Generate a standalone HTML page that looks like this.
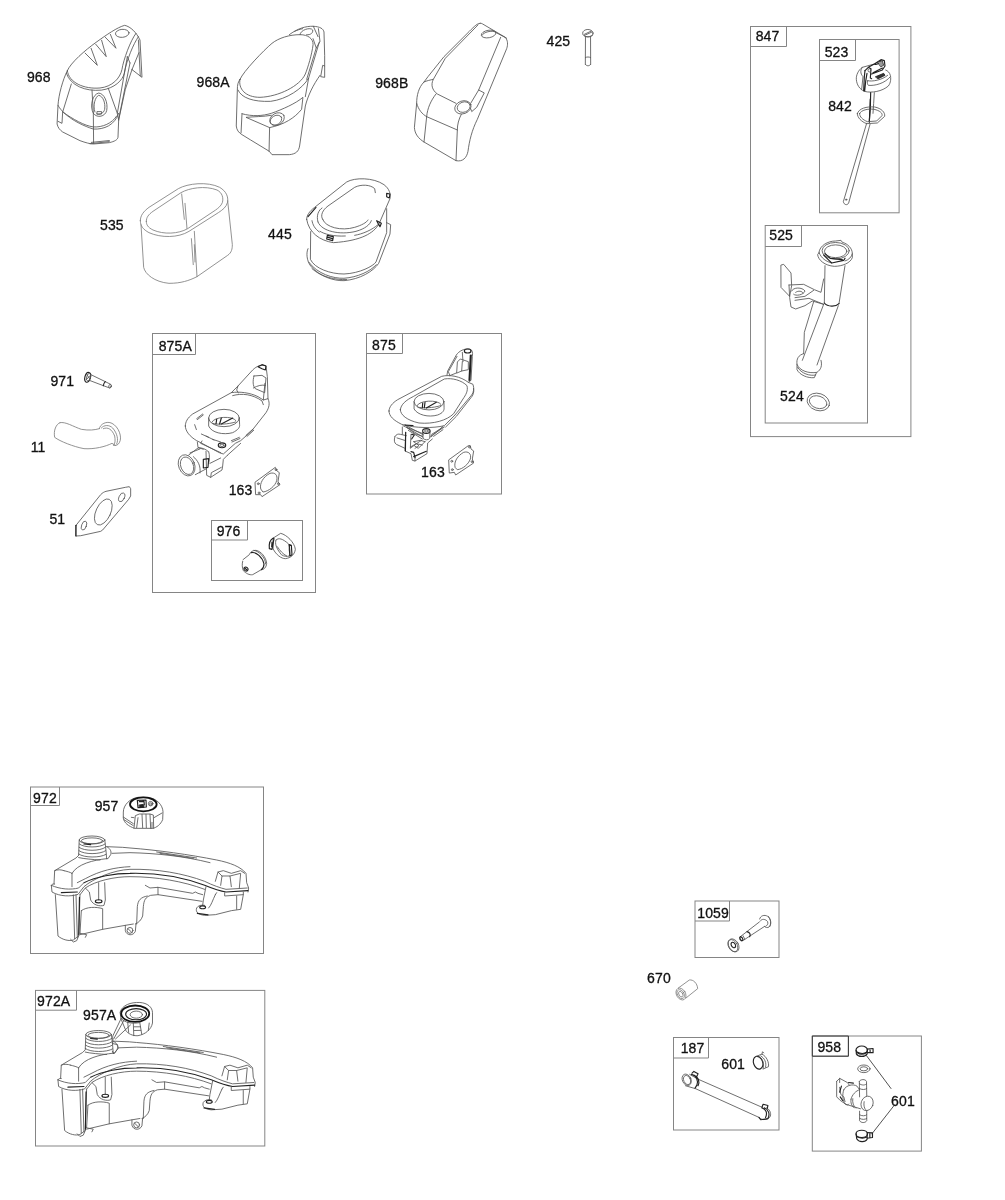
<!DOCTYPE html>
<html><head><meta charset="utf-8"><title>Parts diagram</title>
<style>
html,body{margin:0;padding:0;background:#fff;}
body{width:1005px;height:1200px;overflow:hidden;position:relative;font-family:"Liberation Sans",sans-serif;}
svg{position:absolute;left:0;top:0;filter:grayscale(1);}
.bx{fill:none;stroke:#858585;stroke-width:1;}
.t{font-family:"Liberation Sans",sans-serif;font-size:14px;fill:#111;stroke:#111;stroke-width:0.3px;letter-spacing:0.12px;}
.d{fill:none;stroke:#555;stroke-width:0.85;stroke-linecap:round;stroke-linejoin:round;vector-effect:non-scaling-stroke;}
.d *{vector-effect:non-scaling-stroke;}
.w{fill:#fff;}
.k{stroke:#222;stroke-width:1.15;}
.l{stroke:#808080;}
</style></head><body>
<svg width="1005" height="1200" viewBox="0 0 1005 1200">

<g class="bx">
<rect x="750.5" y="26.5" width="160.39999999999998" height="410.1"/>
<path d="M786.5 26.5V46.5H750.5"/>
<rect x="819.5" y="39.5" width="79.60000000000002" height="173.3"/>
<path d="M855.5 39.5V60.5H819.5"/>
<rect x="765.2" y="225.5" width="102.29999999999995" height="197.5"/>
<path d="M801.5 225.5V246.5H765.2"/>
<rect x="152.5" y="333.5" width="163.0" height="259.0"/>
<path d="M195.5 333.5V354.5H152.5"/>
<rect x="211.5" y="520.5" width="91.0" height="60.0"/>
<path d="M247.5 520.5V540H211.5"/>
<rect x="366.5" y="333.5" width="135.0" height="160.5"/>
<path d="M402.5 333.5V353.5H366.5"/>
<rect x="30.5" y="787" width="233.0" height="166.5"/>
<path d="M59.5 787V805.5H30.5"/>
<rect x="35.5" y="990.4" width="229.3" height="155.60000000000002"/>
<path d="M76.5 990.4V1010.2H35.5"/>
<rect x="695" y="901" width="84" height="56.5"/>
<path d="M729.5 901V921H695"/>
<rect x="673.5" y="1037.5" width="105.5" height="92.5"/>
<path d="M708.5 1037.5V1058H673.5"/>
<rect x="812.3" y="1036" width="109.10000000000002" height="115.09999999999991"/>
<path d="M848.4 1036V1056.2H812.3"/>
<path d="M848.4 1036V1056.2H812.3V1036Z" style="stroke:#3a3a3a;stroke-width:1"/>
</g>
<g class="t">
<text x="755.7" y="41.4">847</text>
<text x="824.7" y="57.4">523</text>
<text x="828.2" y="111.2">842</text>
<text x="769.3" y="240.0">525</text>
<text x="780.1" y="400.8">524</text>
<text x="158.7" y="351.4">875A</text>
<text x="216.7" y="536.0">976</text>
<text x="228.7" y="495.0">163</text>
<text x="372.1" y="350.4">875</text>
<text x="421.1" y="477.0">163</text>
<text x="33.1" y="803.4">972</text>
<text x="94.7" y="811.0">957</text>
<text x="37.1" y="1006.0">972A</text>
<text x="83.1" y="1019.8">957A</text>
<text x="697.3" y="918.4">1059</text>
<text x="647.1" y="983.4">670</text>
<text x="680.7" y="1053.4">187</text>
<text x="721.3" y="1069.0">601</text>
<text x="817.4" y="1051.7">958</text>
<text x="891.1" y="1105.7">601</text>
<text x="26.9" y="81.9">968</text>
<text x="196.5" y="86.6">968A</text>
<text x="375.2" y="87.6">968B</text>
<text x="546.5" y="46.2">425</text>
<text x="100.0" y="229.7">535</text>
<text x="268.1" y="238.9">445</text>
<text x="50.4" y="386.4">971</text>
<text x="30.7" y="452.4">11</text>
<text x="49.4" y="524.1">51</text>
</g>
<!-- p1059.svg -->
<g class="d" transform="translate(715,895) scale(0.066667)">
<path d="M670 360C680 310 740 290 790 320C840 360 850 440 810 480C790 495 760 490 745 475"/>
<path d="M680 390C700 350 760 360 790 400C800 440 780 460 760 470M800 320C840 360 845 430 825 470" />
<path d="M665 405L380 625M745 470L440 670"/>
<path d="M480 550C520 560 540 590 520 625" class="k"/>
<path d="M380 625C360 650 370 690 400 690L440 670M420 610L445 660"/>
<ellipse cx="395" cy="655" rx="18" ry="33" transform="rotate(-30 395 655)" class="k"/>
<ellipse cx="280" cy="755" rx="72" ry="105" transform="rotate(-30 280 755)"/>
<ellipse cx="268" cy="760" rx="66" ry="98" transform="rotate(-30 268 760)"/>
<ellipse cx="275" cy="750" rx="30" ry="45" transform="rotate(-30 275 750)" class="k"/>
</g>
<!-- p187.svg -->
<g class="d" transform="translate(670,1035) scale(0.119403)">
<ellipse cx="140" cy="375" rx="36" ry="50" transform="rotate(-25 140 375)"/>
<ellipse cx="143" cy="377" rx="28" ry="40" transform="rotate(-25 143 377)"/>
<path d="M165 330L235 370L770 605M130 425L215 450L745 690C770 720 830 710 840 680C850 650 830 620 810 610"/>
<path d="M185 320L200 305L235 325L225 345M180 330C220 340 240 380 225 420L210 445M200 335C240 350 250 390 235 425" class="k"/>
<path d="M770 605L780 580L820 590L815 615M770 610C800 620 820 650 800 690M790 610C825 625 840 660 820 700L760 710L745 690" class="k"/>
<ellipse cx="738" cy="232" rx="38" ry="55" transform="rotate(-20 738 232)" class="k"/>
<path d="M720 180L770 160C810 180 830 230 825 265L780 285M770 160L775 140L785 150M760 175C795 195 810 235 800 270M745 180C780 200 790 240 780 280"/>
</g>
<!-- p425.svg -->
<g class="d" transform="translate(540,15) scale(0.066667)">
<ellipse cx="718" cy="272" rx="78" ry="55"/>
<path d="M650 300C680 340 760 340 795 300M665 290L770 240M680 300L780 255"/>
<path d="M682 325L680 740M758 325L760 740M680 640C700 625 740 625 760 640M680 740C700 770 740 770 760 740"/>
</g>
<!-- p445.svg -->
<g class="d" transform="translate(280,170) scale(0.13333)">
<path d="M200 370C200 340 220 310 260 280L500 90C560 55 700 55 780 110C820 140 832 180 825 215L740 410C700 470 620 530 400 545C300 530 215 470 200 370Z"/>
<path d="M320 370C300 340 320 300 360 270L560 130C610 105 680 110 710 140L715 170"/>
<path d="M320 370C340 430 460 460 560 430C610 415 650 395 660 375"/>
<path d="M285 390C270 340 290 300 315 285M285 390C310 460 450 490 570 460C640 440 675 410 685 380"/>
<path d="M240 380C245 410 260 440 295 465M300 460C330 480 400 500 490 495M560 490C620 480 690 450 735 410"/>
<path d="M230 462L228 670C260 740 380 780 480 780C600 775 700 720 720 690L800 470L800 290"/>
<path d="M210 590C195 620 200 680 230 720C300 800 400 832 480 830C600 820 700 760 740 700L825 480L830 410L800 395"/>
<path d="M215 690C280 780 400 815 480 812C580 805 680 760 722 710M240 740C310 805 420 825 500 822"/>
<path d="M355 490L400 500L395 530L350 518ZM360 505L395 515M725 380L760 400L750 425L735 400ZM800 175L825 180L820 210L800 200Z" class="k"/>
<path d="M210 350L270 280" class="k"/>
</g>
<!-- p523.svg -->
<g class="d" transform="translate(845,50) scale(0.066667)">
<path d="M440 210L260 260C200 300 165 380 170 440C175 520 220 590 290 620C400 650 560 620 650 540C690 490 690 420 680 380C670 340 640 310 610 300"/>
<path d="M340 460C330 500 340 520 350 530C450 540 600 500 680 400M340 460C400 480 560 450 640 380"/>
<path d="M260 260C230 300 225 350 270 400L250 590"/>
<path d="M300 310L290 400L280 610M330 350L310 470L295 615" class="k"/>
<path d="M300 310L350 260L390 280L380 420L400 430M350 260L440 210L540 145L590 160L600 240L560 300L400 360M440 210C470 230 520 200 540 150M420 340L560 270" class="k"/>
<path d="M460 400L580 350L600 380L500 430Z" style="fill:#333;stroke:#222"/>
<path d="M490 180L560 160L580 230L540 250Z" style="fill:#999;stroke:#333"/>
<ellipse cx="365" cy="305" rx="20" ry="25"/>
<path d="M440 640L430 800L420 950"/>
<path d="M385 640L380 870L365 1060" class="k"/>
</g>
<g class="d" transform="translate(800,55) scale(0.13333)">
<path d="M527 330L520 505" class="k"/>
<path d="M430 440C440 400 500 385 560 390C610 400 640 430 635 460L580 510L500 515C460 500 430 470 430 440Z"/>
<path d="M447 440C457 412 510 402 555 407C598 417 620 435 615 455L575 495L505 500C470 485 447 465 447 440Z"/>
<path d="M500 512L325 1100C330 1125 355 1130 365 1110L525 520"/>
<circle cx="346" cy="1085" r="5"/>
</g>
<!-- p524.svg -->
<g class="d" transform="translate(770,375) scale(0.066667)">
<ellipse cx="725" cy="405" rx="172" ry="128" transform="rotate(18 725 405)"/>
<ellipse cx="722" cy="408" rx="135" ry="92" transform="rotate(18 722 408)"/>
</g>
<!-- p525.svg -->
<g class="d" transform="translate(765,235) scale(0.13333)">
<path d="M405 130C410 80 470 45 530 45L570 40L580 55C620 65 655 100 655 140L655 170C640 210 580 235 520 235C450 230 400 190 395 150Z"/>
<ellipse cx="530" cy="118" rx="102" ry="62"/>
<ellipse cx="530" cy="122" rx="84" ry="48"/>
<path d="M405 130C420 175 460 200 500 210M655 140C650 165 630 185 600 195"/>
<path d="M440 150L480 190L500 210L590 190L600 175M450 140L490 175L580 185" class="k"/>
<path d="M450 230L445 510M555 515L600 230"/>
<path d="M445 510C470 540 530 540 555 515" class="k"/>
<path d="M440 520L280 940M550 530L390 975M365 500L295 730L290 890"/>
<path d="M290 890C250 900 235 930 240 970C260 1020 330 1040 390 1030C420 1010 430 980 420 940"/>
<path d="M240 970L240 1010C260 1050 320 1075 370 1070L385 1035M245 992C270 1040 340 1060 380 1050"/>
<path d="M122 225L140 220L195 285L200 380L185 460L122 395Z"/>
<path d="M180 375L290 370L370 410L420 430L440 330M180 375L185 470L195 540L230 555L300 530L355 495L440 520M225 470L300 460L365 415M225 490L330 475L440 520"/>
<path d="M200 420C210 390 280 390 300 420C290 450 230 460 215 445M230 430C250 415 280 420 285 435"/>
</g>
<!-- p535.svg -->
<g class="d l" transform="translate(125,170) scale(0.13333)">
<path d="M115 380C115 340 140 310 180 280L400 140C470 100 620 85 710 130C760 160 775 200 770 240C760 280 730 300 700 320L480 460C400 510 270 510 180 470C135 445 115 420 115 380Z"/>
<path d="M160 385C160 355 175 335 210 310L420 170C480 135 600 115 690 150C730 170 740 210 730 245C720 270 700 285 680 300L470 440C400 480 290 485 210 450C170 430 160 410 160 385Z"/>
<path d="M120 410L140 730C150 780 220 840 330 850C420 850 480 830 540 800L770 640C800 620 805 590 805 560L770 230"/>
<path d="M520 460L540 800M425 180L445 370M450 250L465 440M498 515L512 710M520 560L525 690"/>
</g>
<!-- p670.svg -->
<g class="d l" transform="translate(640,960) scale(0.066667)">
<ellipse cx="615" cy="510" rx="68" ry="95" transform="rotate(-30 615 510)"/>
<ellipse cx="612" cy="512" rx="48" ry="72" transform="rotate(-30 612 512)"/>
<ellipse cx="612" cy="512" rx="28" ry="45" transform="rotate(-30 612 512)"/>
<path d="M575 420L740 300C800 290 860 350 865 430L690 570"/>
</g>
<!-- p875.svg -->
<g class="d" transform="translate(375,335) scale(0.13333)">
<path d="M105 570C105 540 130 510 170 485L500 310C560 295 640 310 700 355L735 370C745 400 740 430 725 450L600 600L520 680C440 700 300 700 200 670C140 640 105 610 105 570Z"/>
<path d="M190 560C195 520 230 490 290 460L520 330C580 320 650 340 690 380C700 420 680 450 660 480L590 590C540 640 440 670 330 660C240 640 190 600 190 560Z"/>
<path d="M740 400C745 430 735 455 720 470L610 610L530 690"/>
<path d="M540 300L545 270L610 150C630 120 670 100 710 105C730 110 735 130 730 160L720 340L700 355M560 300L550 275L615 160"/>
<path d="M620 200L640 180L700 200L700 260L650 270L615 285ZM655 130L660 200M610 285L560 305M650 270L655 200"/>
<path d="M715 150L705 340M722 150L712 340" class="k"/>
<ellipse cx="695" cy="120" rx="25" ry="15" class="k"/>
<ellipse cx="405" cy="500" rx="112" ry="62"/>
<path d="M293 500L293 555C320 600 400 620 470 600C510 585 520 565 518 545L517 500"/>
<path d="M315 530C330 490 470 482 495 520M320 540C350 552 440 547 492 530"/>
<path d="M355 545L358 510M370 545L375 505M385 548L460 505" class="k"/>
<ellipse cx="385" cy="720" rx="28" ry="18" class="k"/>
<ellipse cx="385" cy="720" rx="14" ry="8"/>
<path d="M357 720L360 775C375 790 400 790 410 775L413 720"/>
<path d="M210 680L230 690L360 740M415 760L520 690M440 760L510 710M235 690L300 740L355 760"/>
<path d="M150 760C140 790 145 810 160 820L225 850M150 760C160 745 175 740 190 745L235 755M165 772L228 792M205 690L205 745"/>
<path d="M230 730L225 870L270 890L280 940L300 945L390 890L395 810L430 780M270 745L265 850C290 830 330 800 350 790M300 945L300 915M290 800L330 830L300 850"/>
<path d="M230 730L228 870M290 912L385 872" class="k"/>
<path d="M555 935L700 830L715 830L720 855L740 870L730 930L740 960L605 1050L595 1030L560 1035Z"/>
<path d="M600 990C590 950 620 905 665 880C700 870 725 890 715 930C700 970 660 1005 620 1010Z"/>
<circle cx="576" cy="947" r="7"/><circle cx="580" cy="1010" r="7"/><circle cx="708" cy="840" r="7"/><circle cx="728" cy="950" r="7"/>
</g>
<g class="d" transform="translate(385,415) scale(0.066667)">
<path d="M300 150L580 300M330 190L570 330M350 230L560 360M690 330L870 170M700 290L860 190"/>
<path d="M430 400L530 380L600 400M380 480L470 430L560 450M440 460L500 500L600 400"/>
<path d="M400 290L440 300L400 360M390 550L430 560L450 640M300 150L420 160" class="k"/>
</g>
<!-- p875a.svg -->
<g class="d" transform="translate(170,350) scale(0.13333)">
<path d="M115 570C115 540 130 510 170 480L460 320C520 310 600 320 660 350L700 375L735 365C750 400 745 430 720 470L610 610L530 680L490 700L400 780L370 770L240 700L200 680C150 650 115 610 115 570Z"/>
<path d="M470 342C540 322 620 332 690 382L700 410"/>
<path d="M460 320L510 270L620 150C650 120 690 105 720 120L730 200L735 365M510 270L500 300L512 322M700 375L712 250"/>
<path d="M630 195L690 190L720 210L710 320L640 290C620 270 620 230 630 195ZM625 285C660 265 690 260 715 265"/>
<path d="M660 125L690 110L720 120L715 150L690 140Z" class="k"/>
<ellipse cx="405" cy="510" rx="115" ry="65"/>
<path d="M290 510L290 570C310 620 400 640 470 620C510 600 525 580 522 560L520 510"/>
<path d="M315 540C330 500 470 490 495 530M320 550C350 562 440 557 492 540"/>
<path d="M345 555L350 520M372 555L385 510M385 555L470 510" class="k"/>
<path d="M200 515L245 480M205 522L250 487M185 560L198 597M235 630L290 655M270 645L330 675M320 670L380 690M460 680L520 655M465 690L525 664M570 640L620 595M578 648L628 602"/>
<ellipse cx="390" cy="715" rx="28" ry="18" class="k"/>
<ellipse cx="390" cy="715" rx="15" ry="9"/>
<path d="M240 682L230 700L380 770M430 790L530 700M205 690L210 730L250 745"/>
<ellipse cx="125" cy="865" rx="60" ry="82" transform="rotate(-22 125 865)"/>
<ellipse cx="128" cy="868" rx="47" ry="68" transform="rotate(-22 128 868)"/>
<path d="M140 788L210 735C240 730 270 745 285 760M190 935L270 892M175 800C210 830 232 870 225 922M150 772L225 742"/>
<path d="M270 760L275 940L305 955L390 900L395 870L400 820L430 790M300 850L380 810M305 955L310 920L385 880M290 762C300 790 295 830 290 850"/>
<path d="M250 820L290 815L285 880L250 885Z" class="k"/>
<path d="M640 990L790 880L800 905L820 920L810 990L825 1010L690 1100L680 1085L645 1085Z"/>
<path d="M680 1040C670 1000 700 950 750 925C790 915 810 940 800 980C790 1020 740 1060 700 1065Z"/>
<circle cx="662" cy="1003" r="7"/><circle cx="668" cy="1072" r="7"/><circle cx="795" cy="898" r="7"/><circle cx="813" cy="1003" r="7"/>
</g>
<!-- p957.svg -->
<g class="d" transform="translate(110,785) scale(0.066667)">
<path d="M200 400C200 300 300 200 420 185L570 185C700 200 790 300 795 400L790 520C760 590 700 640 640 650L370 650C280 620 210 570 200 500Z"/>
<ellipse cx="500" cy="290" rx="200" ry="105" style="stroke:#111;stroke-width:1.8"/>
<path d="M410 230L540 225L545 330L420 340ZM440 250L510 245L515 300" class="k"/>
<path d="M440 300L500 290L510 335L450 340Z" style="fill:#222;stroke:#222"/>
<circle cx="610" cy="280" r="34"/><circle cx="612" cy="285" r="18"/>
<path d="M360 650L380 460L440 435L600 435L650 450L655 650M480 440L490 640M540 440L545 640M600 440L610 650M420 490L400 640M630 560L630 650"/>
<path d="M660 490L780 420M200 480L350 580M210 520L350 610M320 485L360 490"/>
</g>
<!-- p958.svg -->
<g class="d" transform="translate(808,1030) scale(0.119403)">
<ellipse cx="450" cy="168" rx="48" ry="34" class="k"/>
<path d="M403 170L405 200C420 228 480 228 495 200L496 170M495 160L545 155L545 190L495 190M520 158L520 190M410 185C440 200 470 200 495 185" class="k"/>
<path d="M490 215L695 490M715 640L535 870" style="stroke:#333"/>
<ellipse cx="468" cy="325" rx="52" ry="32"/>
<ellipse cx="468" cy="325" rx="32" ry="17"/>
<path d="M430 430C440 410 480 410 490 430L492 550M430 430L432 560M430 450C450 465 480 465 492 450M430 490C450 502 480 502 492 490"/>
<path d="M300 500C320 460 380 450 410 470L432 500M360 580C370 540 400 510 432 500M300 500C285 540 290 590 310 620L440 660"/>
<ellipse cx="495" cy="615" rx="50" ry="62" transform="rotate(20 495 615)"/>
<path d="M360 580C355 610 365 640 385 650M375 575C370 605 380 640 400 655M470 600C465 630 470 650 480 665"/>
<path d="M240 430L265 405L330 440L345 460M240 430L240 560L270 590L330 630L340 620M265 405L265 440M265 480L275 540L300 560L310 600"/>
<path d="M280 470L265 520M270 560L290 590M340 440L380 445" class="k"/>
<path d="M432 680L432 760C445 780 480 780 492 760L492 672M432 710C450 722 480 722 492 710M432 740C450 752 480 752 492 740"/>
<ellipse cx="450" cy="870" rx="48" ry="30" class="k"/>
<path d="M403 870L408 910C425 942 480 942 495 915L496 870M495 860L540 862L540 900L495 905M518 862L518 902M412 895C440 910 470 910 495 895" class="k"/>
</g>
<!-- p968.svg -->
<g class="d" transform="translate(40,20) scale(0.13333)">
<path d="M205 380C230 320 340 225 420 168C500 110 580 55 635 40C680 50 722 92 750 150L765 430L690 372"/>
<path d="M738 150L752 420M742 245L690 372"/>
<path d="M205 380C215 470 330 520 450 510C540 500 600 440 615 370C625 300 680 150 720 100"/>
<path d="M198 400C228 492 340 537 460 526C560 512 620 452 632 400C650 300 700 180 738 125"/>
<path d="M338 248L430 340L383 212M418 182L497 275L462 152M490 130L570 212L528 108"/>
<ellipse cx="617" cy="100" rx="51" ry="30" transform="rotate(-5 617 100)"/>
<path d="M205 380C170 450 140 560 135 640L128 780C135 810 150 825 170 840L300 905C340 920 380 930 400 930L520 920C560 910 580 900 585 880L590 750"/>
<path d="M235 480L170 690L165 775L135 760"/>
<path d="M135 640C160 690 250 770 400 818C480 822 560 790 590 700"/>
<path d="M170 690C250 745 330 792 400 802C470 806 540 775 575 720"/>
<path d="M390 525L400 700L402 925"/>
<path d="M400 700C368 640 398 555 440 548C482 550 512 620 500 680C490 722 430 742 400 700"/>
<path d="M412 690C394 640 415 575 440 565C472 570 492 620 485 670C478 700 445 715 425 705"/>
<path d="M430 687H462V705H430Z"/>
<path d="M512 512L580 700L590 750"/>
<path d="M655 275L580 700M675 322L590 745M690 372L640 520L590 750M655 275L675 322"/>
<path d="M375 928L520 912M385 918L520 904"/>
</g>
<!-- p968a.svg -->
<g class="d" transform="translate(220,10) scale(0.13333)">
<path d="M150 520C175 460 330 300 390 250C440 210 520 185 600 185C660 185 700 215 698 260C690 330 660 430 640 480C600 570 440 650 300 655C190 655 135 590 150 520Z"/>
<path d="M150 520C135 540 130 560 130 600L122 870C125 900 140 920 165 935L230 975L370 1060L390 1085L520 1085C570 1080 590 1060 597 1020L640 720C660 640 700 560 750 490"/>
<path d="M520 185C580 140 640 120 700 122C750 125 775 140 780 165L785 340L785 505L755 500L770 415L785 420"/>
<path d="M135 600C160 660 250 690 380 685C500 670 620 590 665 510L640 650"/>
<path d="M165 778C240 800 320 795 385 775C470 745 570 700 622 655L612 745C560 810 480 860 372 882L195 805C250 800 330 800 385 790"/>
<path d="M165 778L158 920"/>
<ellipse cx="428" cy="818" rx="58" ry="44" transform="rotate(-30 428 818)"/>
<ellipse cx="420" cy="826" rx="46" ry="34" transform="rotate(-30 420 826)"/>
<path d="M372 882L368 1060"/>
<path d="M698 215L722 285L650 520M745 240L665 510M722 285L750 235L738 140M700 122L735 200"/>
<path d="M600 185C600 150 680 125 695 150C700 170 680 190 650 185"/>
<path d="M560 160C580 150 600 145 620 140"/>
</g>
<!-- p968b.svg -->
<g class="d" transform="translate(400,10) scale(0.13333)">
<path d="M600 100C580 100 560 120 520 160L330 350L210 500L180 540C140 580 125 640 125 700L108 880C110 930 140 965 180 990L420 1130C470 1140 500 1110 510 1060C520 980 540 900 580 820L800 290C810 260 810 230 790 205L620 105C612 100 605 98 600 100Z"/>
<path d="M585 112L340 362L250 520C230 560 240 600 280 630L420 700"/>
<path d="M180 540C200 530 230 525 248 520"/>
<path d="M725 172L800 212M755 205L590 600L530 700"/>
<path d="M590 600L632 622L575 730L538 762L530 740"/>
<ellipse cx="665" cy="180" rx="56" ry="28" transform="rotate(-10 665 180)"/>
<path d="M615 190C625 165 690 150 715 165"/>
<ellipse cx="472" cy="730" rx="63" ry="48" transform="rotate(-20 472 730)"/>
<ellipse cx="478" cy="728" rx="50" ry="38" transform="rotate(-20 478 728)"/>
<path d="M270 630C230 680 205 740 200 800L180 990M200 800L430 900M460 782C440 820 430 860 430 900L420 1130M125 700C140 750 165 780 200 800"/>
</g>
<!-- p971_11_51.svg -->
<g class="d" transform="translate(20,360) scale(0.13333)">
<g transform="translate(375,-37.5) scale(0.5)">
<ellipse cx="265" cy="335" rx="42" ry="76" transform="rotate(15 265 335)" class="k"/>
<ellipse cx="278" cy="332" rx="28" ry="58" transform="rotate(15 278 332)"/>
<path d="M250 290L290 350M245 370L300 310"/>
<path d="M320 298L530 400L610 440C630 460 625 490 595 495L500 460L295 382"/>
<path d="M530 400C510 420 500 440 500 460" class="k"/>
<ellipse cx="600" cy="467" rx="18" ry="27" transform="rotate(15 600 467)"/>
</g>
<g class="l">
<path d="M300 470C270 480 250 530 260 580C300 610 400 650 480 665C560 670 640 650 690 625L715 640M300 470C340 460 400 500 460 520C520 530 560 525 595 515"/>
<path d="M595 515C600 480 650 455 690 475C740 500 770 580 745 620C735 640 715 645 700 640"/>
<path d="M610 510C630 485 670 485 695 510C730 550 740 600 725 630M625 515C660 500 690 520 710 570C715 600 715 620 705 635"/>
</g>
</g>
<g class="d" transform="translate(30,460) scale(0.13333)">
<path d="M345 490L530 260C545 245 555 240 570 235L715 205L745 200L755 215L755 270L740 295L545 525L530 535L380 568L345 570Z"/>
<path d="M345 490L345 570" class="k"/>
<ellipse cx="550" cy="390" rx="55" ry="105" transform="rotate(25 550 390)"/>
<ellipse cx="405" cy="492" rx="18" ry="35" transform="rotate(20 405 492)"/>
<ellipse cx="688" cy="280" rx="20" ry="35" transform="rotate(25 688 280)"/>
</g>
<!-- p972.svg -->
<g class="d" transform="translate(40,820) scale(0.13333)">
<ellipse cx="390" cy="150" rx="96" ry="30"/>
<ellipse cx="390" cy="156" rx="80" ry="22"/>
<path d="M294 150L290 262M486 150L495 230L500 290M295 180C330 210 450 210 488 180M293 205C330 235 450 235 490 205M292 230C330 260 450 260 493 230M290 255C330 285 450 285 495 258"/>
<path d="M330 180L380 185" class="k"/>
<path d="M500 200C520 210 540 230 530 260L510 290L500 290"/>
<path d="M290 265L270 285L110 380L105 480M110 380C130 370 160 372 180 380M240 400L240 500M290 282C330 292 400 296 450 300M180 380C200 385 230 392 240 400"/>
<path d="M500 200L620 205L675 210C875 225 1125 260 1325 300C1425 320 1505 350 1545 400L1550 470L1565 510L1560 540"/>
<path d="M540 250L675 245C875 250 1075 270 1275 320"/>
<path d="M875 240L1175 285M900 250L1150 288"/>
<path d="M85 490C90 480 100 478 110 480M85 490L90 540C150 575 230 575 285 558L330 500C400 440 550 375 675 370C875 365 1075 400 1235 460C1295 490 1355 510 1395 520L1555 510"/>
<path d="M330 470C420 425 560 400 675 400C875 395 1075 430 1235 490C1295 515 1355 535 1395 540L1560 530" class="k"/>
<path d="M300 560L340 510C420 455 560 425 675 425C875 425 1075 460 1235 520"/>
<path d="M240 400C280 330 400 300 500 290M280 470L340 440C450 380 560 355 675 350"/>
<path d="M85 490C150 520 230 525 290 510L330 470"/>
<path d="M160 545L280 540" class="k"/>
<path d="M115 560L135 870C170 900 220 910 250 900L290 870L300 560M250 562L260 890M270 560L280 880"/>
<path d="M296 580L291 860" class="k"/>
<path d="M230 895L250 915L275 905L290 870M300 850L350 860L340 880"/>
<path d="M340 510L370 540L380 600C400 640 450 650 480 640L490 600L485 470M440 470L440 600"/>
<ellipse cx="440" cy="610" rx="25" ry="12" class="k"/>
<path d="M310 680C350 650 420 650 470 665L470 820L300 860M310 680L300 850"/>
<path d="M470 820L640 790L700 780"/>
<path d="M790 490L825 510L885 505L885 560L1215 610M885 505L1145 550L1165 540L1185 550L1220 560"/>
<path d="M805 570C755 580 735 600 730 650L725 780M885 560L830 565C790 580 780 600 775 650L770 720C760 750 740 770 715 780"/>
<path d="M640 790L640 830C650 870 700 870 715 835L720 780"/>
<circle cx="675" cy="828" r="22"/><path d="M660 815L690 845"/>
<path d="M1315 460L1335 390L1375 380L1435 400L1505 380L1535 400M1355 490L1365 420L1425 420L1435 500M1425 420L1505 400L1495 510M1335 390L1365 420"/>
<path d="M1385 545L1385 570L1525 560L1525 540M1525 560L1505 670L1435 680L1315 710L1235 715C1185 710 1165 690 1175 660C1185 640 1215 635 1235 640M1475 570L1475 670M1315 560C1295 600 1285 640 1265 660M1245 500L1225 600L1220 640M1325 545L1315 560"/>
<ellipse cx="1220" cy="655" rx="22" ry="11" class="k"/>
<path d="M1180 700L1260 712" class="k"/>
</g>
<!-- p972a.svg -->
<g class="d" transform="translate(6.6,194.5) translate(40,820) scale(0.13333)">
<ellipse cx="390" cy="150" rx="96" ry="30"/>
<ellipse cx="390" cy="156" rx="80" ry="22"/>
<path d="M294 150L290 262M486 150L495 230L500 290M295 180C330 210 450 210 488 180M293 205C330 235 450 235 490 205M292 230C330 260 450 260 493 230M290 255C330 285 450 285 495 258"/>
<path d="M330 180L380 185" class="k"/>
<path d="M500 200C520 210 540 230 530 260L510 290L500 290"/>
<path d="M290 265L270 285L110 380L105 480M110 380C130 370 160 372 180 380M240 400L240 500M290 282C330 292 400 296 450 300M180 380C200 385 230 392 240 400"/>
<path d="M500 200L620 205L675 210C875 225 1125 260 1325 300C1425 320 1505 350 1545 400L1550 470L1565 510L1560 540"/>
<path d="M540 250L675 245C875 250 1075 270 1275 320"/>
<path d="M875 240L1175 285M900 250L1150 288"/>
<path d="M85 490C90 480 100 478 110 480M85 490L90 540C150 575 230 575 285 558L330 500C400 440 550 375 675 370C875 365 1075 400 1235 460C1295 490 1355 510 1395 520L1555 510"/>
<path d="M330 470C420 425 560 400 675 400C875 395 1075 430 1235 490C1295 515 1355 535 1395 540L1560 530" class="k"/>
<path d="M300 560L340 510C420 455 560 425 675 425C875 425 1075 460 1235 520"/>
<path d="M240 400C280 330 400 300 500 290M280 470L340 440C450 380 560 355 675 350"/>
<path d="M85 490C150 520 230 525 290 510L330 470"/>
<path d="M160 545L280 540" class="k"/>
<path d="M115 560L135 870C170 900 220 910 250 900L290 870L300 560M250 562L260 890M270 560L280 880"/>
<path d="M296 580L291 860" class="k"/>
<path d="M230 895L250 915L275 905L290 870M300 850L350 860L340 880"/>
<path d="M340 510L370 540L380 600C400 640 450 650 480 640L490 600L485 470M440 470L440 600"/>
<ellipse cx="440" cy="610" rx="25" ry="12" class="k"/>
<path d="M310 680C350 650 420 650 470 665L470 820L300 860M310 680L300 850"/>
<path d="M470 820L640 790L700 780"/>
<path d="M790 490L825 510L885 505L885 560L1215 610M885 505L1145 550L1165 540L1185 550L1220 560"/>
<path d="M805 570C755 580 735 600 730 650L725 780M885 560L830 565C790 580 780 600 775 650L770 720C760 750 740 770 715 780"/>
<path d="M640 790L640 830C650 870 700 870 715 835L720 780"/>
<circle cx="675" cy="828" r="22"/><path d="M660 815L690 845"/>
<path d="M1315 460L1335 390L1375 380L1435 400L1505 380L1535 400M1355 490L1365 420L1425 420L1435 500M1425 420L1505 400L1495 510M1335 390L1365 420"/>
<path d="M1385 545L1385 570L1525 560L1525 540M1525 560L1505 670L1435 680L1315 710L1235 715C1185 710 1165 690 1175 660C1185 640 1215 635 1235 640M1475 570L1475 670M1315 560C1295 600 1285 640 1265 660M1245 500L1225 600L1220 640M1325 545L1315 560"/>
<ellipse cx="1220" cy="655" rx="22" ry="11" class="k"/>
<path d="M1180 700L1260 712" class="k"/>
</g>
<g class="d" transform="translate(80,995) scale(0.09354)">
<path d="M430 180C450 110 540 75 640 80C720 85 775 130 775 190L775 300C760 370 700 420 620 435C560 440 510 410 490 380L440 260Z" class="w"/>
<ellipse cx="590" cy="200" rx="150" ry="88" style="stroke:#111;stroke-width:1.8"/>
<ellipse cx="600" cy="205" rx="112" ry="60" class="k"/>
<ellipse cx="602" cy="210" rx="66" ry="38"/>
<path d="M570 300L575 435M640 300L660 420M580 340L645 340M580 380L650 378M510 290L520 400M740 300L730 380M440 250C480 300 560 310 640 295"/>
<path d="M440 250L350 440L350 520M470 270L360 470M540 320L380 470M350 520L400 530L410 570L360 630L345 600"/>
</g>
<!-- p976.svg -->
<g class="d" transform="translate(236,520) scale(0.066667)">
<path d="M560 270L670 200C760 220 880 340 890 440C880 520 820 570 740 580C680 580 600 520 560 440Z"/>
<path d="M600 300C640 260 700 280 790 360C810 420 820 500 800 540M600 300C580 350 600 420 680 520C720 550 770 550 800 540M620 400C660 460 700 510 760 540"/>
<path d="M560 270C520 290 490 330 500 430L540 440L570 280M540 330L535 400" class="k"/>
<path d="M800 370L830 380L840 520L810 540L800 450Z" class="k"/>
<path d="M105 595L200 520C210 480 260 450 300 455C380 470 450 560 460 650C455 710 420 745 380 745L250 820C200 830 150 800 110 760C90 720 90 650 100 620"/>
<path d="M230 490C300 470 400 560 420 660C420 700 400 730 380 745" class="k"/>
<path d="M270 455C350 470 440 560 445 660"/>
<ellipse cx="150" cy="735" rx="33" ry="28" transform="rotate(40 150 735)" class="k"/>
<path d="M130 720L165 750" class="k"/>
</g>
</svg></body></html>
